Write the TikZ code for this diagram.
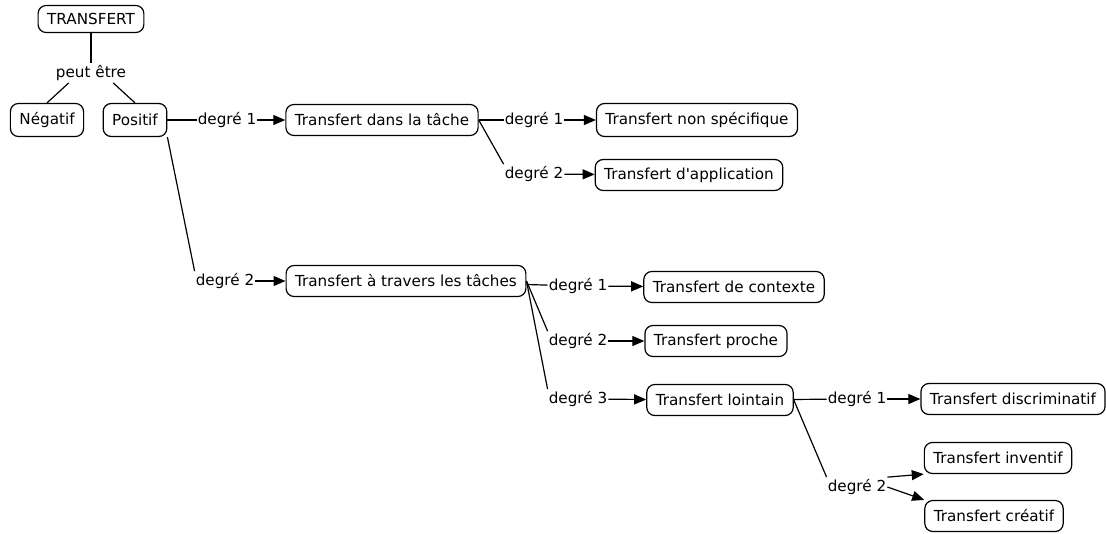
\documentclass[tikz,border=0pt]{standalone}
\usepackage{fontspec}
\setmainfont{DejaVu Sans}
\usetikzlibrary{arrows.meta,positioning}

\begin{document}
\begin{tikzpicture}[
            x=1pt, y=-1pt,
            font=\fontsize{15.2}{18}\selectfont,
            concept/.style={rectangle, rounded corners=8pt, draw, line width=1.2pt, inner xsep=9pt, minimum height=31pt},
            phrase/.style={inner xsep=1pt, inner ysep=2pt},
            arrow/.style={-{Triangle[length=12pt,width=10pt]}, line width=1.2pt},
            line/.style={line width=1.2pt}
        ]
            \useasboundingbox (0,0) rectangle (1106,533);

            % Concepts
            \node[concept, minimum height=27pt] (transfert) at (91,19) {TRANSFERT};
            \node[concept, minimum height=33pt] (negatif) at (47,120) {Négatif};
            \node[concept, minimum height=33pt] (positif) at (135,120) {Positif};
            \node[concept] (dans) at (382,120) {Transfert dans la tâche};
            \node[concept, minimum height=33pt] (nonspec) at (697,120) {Transfert non spécifique};
            \node[concept] (applic) at (689,175) {Transfert d\textquotesingle application};
            \node[concept] (travers) at (406,281) {Transfert à travers les tâches};
            \node[concept] (contexte) at (734,287) {Transfert de contexte};
            \node[concept] (proche) at (716,341) {Transfert proche};
            \node[concept] (lointain) at (720,400) {Transfert lointain};
            \node[concept] (discrim) at (1013,399) {Transfert discriminatif};
            \node[concept] (inventif) at (998,458) {Transfert inventif};
            \node[concept] (creatif) at (994,516) {Transfert créatif};

            % Linking phrases
            \node[phrase] (peut) at (91,73) {peut être};
            \node[phrase] (pd1) at (227,120) {degré 1};
            \node[phrase] (pd2) at (225,281) {degré 2};
            \node[phrase] (dd1) at (534,120) {degré 1};
            \node[phrase] (dd2) at (534,174) {degré 2};
            \node[phrase] (td1) at (578,286) {degré 1};
            \node[phrase] (td2) at (578,341) {degré 2};
            \node[phrase] (td3) at (578,399) {degré 3};
            \node[phrase] (ld1) at (857,399) {degré 1};
            \node[phrase] (ld2) at (857,487) {degré 2};

            % Connectors
            \draw[line] (transfert) -- (peut);
            \draw[line] (peut.south west) ++(14,0) -- (negatif.north);
            \draw[line] (peut.south east) ++(-14,0) -- (positif.north);

            \draw[line] (positif) -- (pd1);
            \draw[arrow] (pd1) -- (dans);
            \draw[line] (positif.south east) -- (pd2.north west);
            \draw[arrow] (pd2) -- (travers);

            \draw[line] (dans) -- (dd1);
            \draw[arrow] (dd1) -- (nonspec);
            \draw[line] (dans.east) -- (dd2.north west);
            \draw[arrow] (dd2) -- (applic);

            \draw[line] (travers) -- (td1);
            \draw[arrow] (td1) -- (contexte);
            \draw[line] (travers.east) -- (td2.north west);
            \draw[arrow] (td2) -- (proche);
            \draw[line] (travers.east) -- (td3.north west);
            \draw[arrow] (td3) -- (lointain);

            \draw[line] (lointain) -- (ld1);
            \draw[arrow] (ld1) -- (discrim);
            \draw[line] (lointain.east) -- (ld2.north west);
            \draw[arrow] (ld2.north east) -- (inventif.south west);
            \draw[arrow] (ld2.east) -- (creatif.north west);
        \end{tikzpicture}
\end{document}
